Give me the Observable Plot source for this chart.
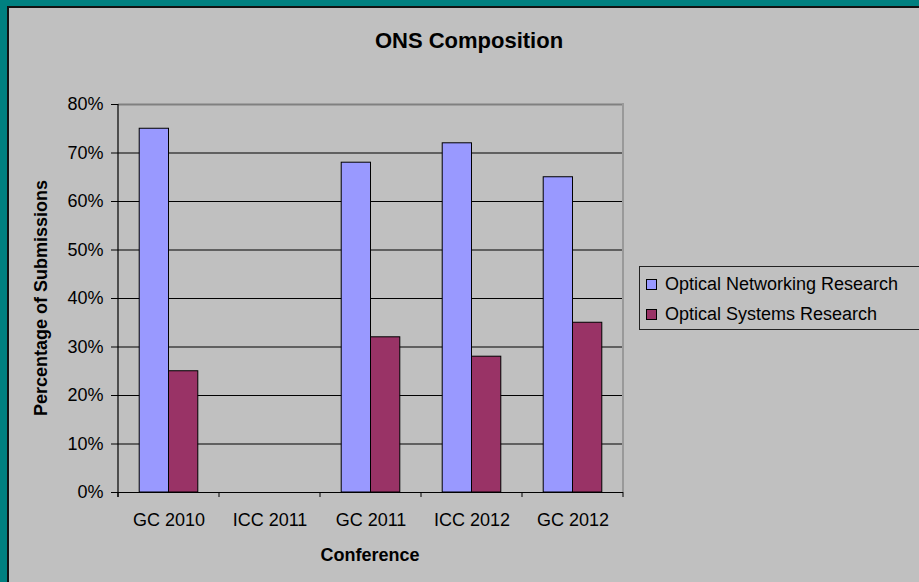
<!DOCTYPE html>
<html>
<head>
<meta charset="utf-8">
<script src="https://cdn.jsdelivr.net/npm/d3@7"></script>
<script src="https://cdn.jsdelivr.net/npm/@observablehq/plot@0.6"></script>
<style>
  html, body { margin: 0; padding: 0; width: 919px; height: 582px; overflow: hidden; background: #008080; font-family: Arial, "Liberation Sans", sans-serif; color: #000; }
  #panel { position: absolute; left: 7px; top: 6px; width: 960px; height: 620px; background: #c0c0c0; border-left: 2px solid #111; border-top: 2px solid #111; }
  #chart { position: absolute; left: 0; top: 0; }
  #title { position: absolute; left: 319px; width: 300px; top: 28px; text-align: center; font-weight: bold; font-size: 22px; line-height: 26px; }
  #ylabel { position: absolute; left: 41px; top: 298px; transform: translate(-50%, -50%) rotate(-90deg); white-space: nowrap; font-weight: bold; font-size: 18px; }
  #xlabel { position: absolute; left: 370px; top: 555px; transform: translate(-50%, -50%); white-space: nowrap; font-weight: bold; font-size: 18px; }
  #legend { position: absolute; left: 639px; top: 266px; width: 320px; height: 62px; border: 1px solid #222; background: #c0c0c0; font-size: 18px; }
  .item { position: absolute; left: 6px; height: 24px; display: flex; align-items: center; white-space: nowrap; }
  .sw { width: 9px; height: 9px; border: 1px solid #000; margin-right: 8px; }
</style>
</head>
<body>
<div id="panel"></div>
<div id="chart"></div>
<div id="title">ONS Composition</div>
<div id="ylabel">Percentage of Submissions</div>
<div id="xlabel">Conference</div>
<div id="legend"></div>
<script>
// ---- data ----
const conferences = ["GC 2010", "ICC 2011", "GC 2011", "ICC 2012", "GC 2012"];
const seriesNames = ["Optical Networking Research", "Optical Systems Research"];
const networking = [0.75, null, 0.68, 0.72, 0.65];
const systems = [0.25, null, 0.32, 0.28, 0.35];
const seriesColors = ["#9999ff", "#993366"];
const yTicks = [0, 0.1, 0.2, 0.3, 0.4, 0.5, 0.6, 0.7, 0.8];
const gridTicks = [0.1, 0.2, 0.3, 0.4, 0.5, 0.6, 0.7];

// ---- tables per series ----
const toRows = (vals, s) => conferences
  .map((c, i) => ({conference: c, series: s, value: vals[i]}))
  .filter(d => d.value != null);
const netRows = toRows(networking, seriesNames[0]);
const sysRows = toRows(systems, seriesNames[1]);

const W = 919, H = 582;
const mL = 118, mR = 296, mT = 104, mB = 90;
const band = (W - mL - mR) / conferences.length;
const gap = band * 0.21;       // outer gap on each side of a bar pair
const barW = (band - 2 * gap) / 2;

const plot = Plot.plot({
  width: W,
  height: H,
  marginLeft: mL,
  marginRight: mR,
  marginTop: mT,
  marginBottom: mB,
  style: {background: "transparent", fontFamily: "Arial, 'Liberation Sans', sans-serif", fontSize: "18px", color: "#000", overflow: "visible"},
  x: {domain: conferences, padding: 0, label: null, tickSize: 0, tickPadding: 21},
  y: {domain: [0, 0.8], ticks: yTicks, tickFormat: d3.format(".0%"), tickSize: 7, tickPadding: 8, label: null},
  color: {domain: seriesNames, range: seriesColors},
  marks: [
    Plot.ruleY(gridTicks, {stroke: "#000", strokeWidth: 1}),
    Plot.ruleY([0.8], {stroke: "#808080", strokeWidth: 2}),
    Plot.barY(netRows, {x: "conference", y: "value", fill: "series", stroke: "#000", strokeWidth: 1, insetLeft: gap, insetRight: gap + barW}),
    Plot.barY(sysRows, {x: "conference", y: "value", fill: "series", stroke: "#000", strokeWidth: 1, insetLeft: gap + barW, insetRight: gap}),
    Plot.ruleY([0], {stroke: "#000", strokeWidth: 1.2})
  ]
});
document.getElementById("chart").appendChild(plot);

// axis line, right border and between-category ticks from the library's scales
const svg = d3.select(plot);
const xs = plot.scale("x");
const y = plot.scale("y");
const y0 = y.apply(0), yTop = y.apply(0.8);
const bounds = conferences.map(c => xs.apply(c));
bounds.push(bounds[bounds.length - 1] + xs.bandwidth);
const g = svg.append("g");
g.append("line").attr("x1", bounds[0]).attr("x2", bounds[0]).attr("y1", yTop).attr("y2", y0 + 5).attr("stroke", "#000").attr("stroke-width", 1.2);
g.append("line").attr("x1", bounds[bounds.length - 1]).attr("x2", bounds[bounds.length - 1]).attr("y1", yTop - 1).attr("y2", y0).attr("stroke", "#999").attr("stroke-width", 2);
g.selectAll("line.tk").data(bounds).join("line").attr("class", "tk")
  .attr("x1", d => d).attr("x2", d => d).attr("y1", y0).attr("y2", y0 + 5)
  .attr("stroke", "#000").attr("stroke-width", 1);

// legend
const legend = d3.select("#legend");
seriesNames.forEach((s, i) => {
  const item = legend.append("div").attr("class", "item").style("top", (5 + i * 30) + "px");
  item.append("div").attr("class", "sw").style("background", seriesColors[i]);
  item.append("span").text(s);
});
</script>
</body>
</html>
